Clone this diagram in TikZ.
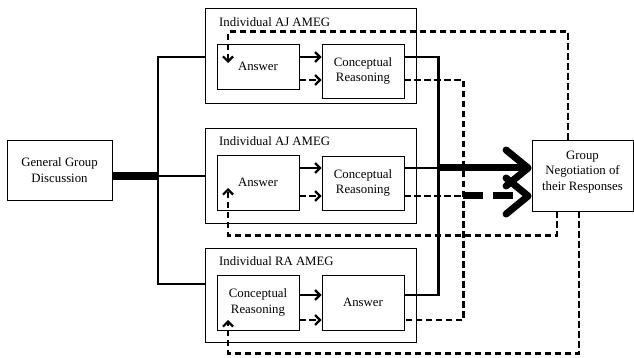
\documentclass[tikz,border=0pt]{standalone}
\usepackage{fontspec}
\setmainfont{Liberation Serif}
\usetikzlibrary{arrows.meta,positioning}

\begin{document}
\begin{tikzpicture}[x=1pt, y=-1pt,
  every node/.style={font=\fontsize{12.8}{15.5}\selectfont},
  box/.style={draw, line width=0.8pt, rectangle, inner sep=2pt, align=center},
  link/.style={line width=2.2pt},
  dlink/.style={line width=2.2pt, dash pattern=on 6.5pt off 3.5pt},
  tip/.style={-{Straight Barb[length=5pt,width=10pt]}},
  fat/.style={line width=7pt, -{Straight Barb[length=22pt,width=36pt,round]}}
]
\useasboundingbox (0,0) rectangle (634,358);

\node[box, minimum width=105pt, minimum height=60pt] (gen) at (59.5,170) {General Group\\Discussion};

\node[box, minimum width=211pt, minimum height=95pt] (grp1) at (310.5,55.5) {};
\node[box, minimum width=211pt, minimum height=95pt] (grp2) at (310.5,175.5) {};
\node[box, minimum width=211pt, minimum height=94pt] (grp3) at (310.5,295) {};

\node[anchor=base west, inner sep=0pt] (tit1) at (219,27) {Individual AJ AMEG};
\node[anchor=base west, inner sep=0pt] (tit2) at (219,146) {Individual AJ AMEG};
\node[anchor=base west, inner sep=0pt] (tit3) at (219,265) {Individual RA AMEG};

\node[box, minimum width=82pt, minimum height=45pt] (ans1) at (258,66.5) {Answer};
\node[box, minimum width=82pt, minimum height=54pt] (cr1) at (363,71) {Conceptual\\Reasoning};
\node[box, minimum width=82pt, minimum height=55pt] (ans2) at (258,182.5) {Answer};
\node[box, minimum width=82pt, minimum height=54pt] (cr2) at (363,183) {Conceptual\\Reasoning};
\node[box, minimum width=82pt, minimum height=55pt] (cr3) at (258,302.5) {Conceptual\\Reasoning};
\node[box, minimum width=82pt, minimum height=55pt] (ans3) at (363,302.5) {Answer};

\node[box, minimum width=101pt, minimum height=71pt, text depth=10pt] (neg) at (582.5,175.5) {Group\\Negotiation of\\their Responses};

% branches to the three groups
\coordinate (t1) at (158,57);
\coordinate (t2) at (158,176);
\coordinate (t3) at (158,284);
\draw[line width=8pt] (t2 -| gen.east) -- (t2);
\draw[link] (t1 -| grp1.west) -- (t1) -- (t3) -- (t3 -| grp3.west);
\draw[link] (t2) -- (t2 -| grp2.west);

% inside the groups
\draw[link, tip] ([yshift=9.5pt]ans1.east) -- ([yshift=9.5pt]ans1.east -| cr1.west);
\draw[dlink, tip] ([yshift=-13.5pt]ans1.east) -- ([yshift=-13.5pt]ans1.east -| cr1.west);
\draw[link, tip] ([yshift=14.5pt]ans2.east) -- ([yshift=14.5pt]ans2.east -| cr2.west);
\draw[dlink, tip] ([yshift=-13.5pt]ans2.east) -- ([yshift=-13.5pt]ans2.east -| cr2.west);
\draw[link, tip] ([yshift=7.5pt]cr3.east) -- ([yshift=7.5pt]cr3.east -| ans3.west);
\draw[dlink, tip] ([yshift=-17.5pt]cr3.east) -- ([yshift=-17.5pt]cr3.east -| ans3.west);

% outputs
\draw[link] ([yshift=14pt]cr1.east) -- ++(34,0) |- ([yshift=7.5pt]ans3.east);
\draw[dlink] ([yshift=-9pt]cr1.east) -- ++(59,0) |- ([yshift=-17.5pt]ans3.east);
\draw[link] ([yshift=15pt]cr2.east) -- ++(34,0) coordinate (k1);
\draw[dlink] ([yshift=-13pt]cr2.east) -- ++(59,0) coordinate (k2);
\draw[fat] (k1) -- (k1 -| neg.west);
\draw[fat, dash pattern=on 20pt off 10pt] (k2) -- (k2 -| neg.west);

% feedback
\coordinate (in1) at (228,63);
\coordinate (in2) at (228,188);
\coordinate (in3) at (228,320);
\draw[dlink, tip] ([xshift=-14.5pt]neg.north) -- ++(0,-108) -| (in1);
\draw[dlink, tip] ([xshift=-25.5pt]neg.south) -- ++(0,24) -| (in2);
\draw[dlink, tip] ([xshift=-3.5pt]neg.south) -- ++(0,142) -| (in3);

\end{tikzpicture}
\end{document}
